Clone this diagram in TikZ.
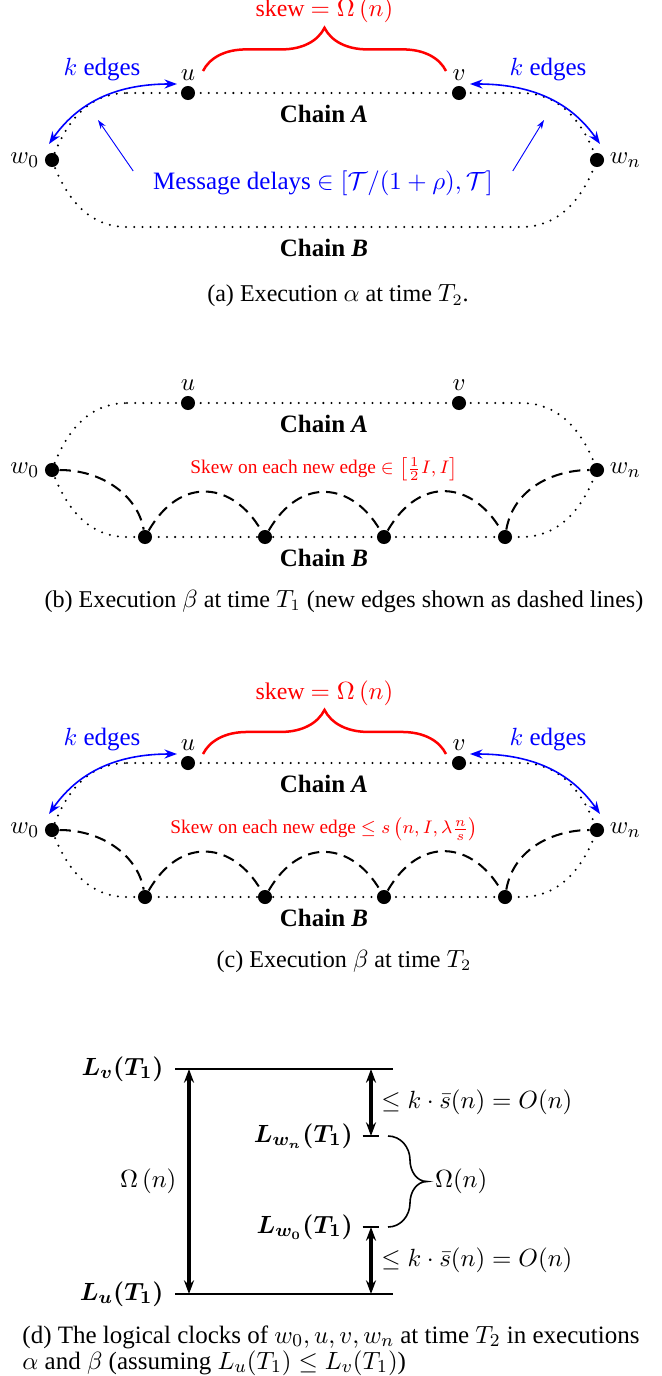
\documentclass[tikz,border=0pt]{standalone}
\usepackage{amsmath,amssymb}
\usepackage{fontspec}
\setmainfont{Liberation Serif}
\usetikzlibrary{arrows.meta,positioning,calc,decorations.pathreplacing}
\definecolor{skewred}{RGB}{255,0,0}
\definecolor{delayblue}{RGB}{0,0,255}

\tikzset{
  proc/.style={circle, fill=black, inner sep=0pt, minimum size=6.2pt},
  plabel/.style={font=\fontsize{11}{13}\selectfont, inner sep=1pt},
  chainline/.style={line width=1pt, dash pattern=on 0pt off 3.6pt, line cap=round},
  chainlabel/.style={font=\fontsize{11}{13}\selectfont\bfseries},
  newedge/.style={line width=0.9pt, dash pattern=on 5pt off 3pt},
  newskew/.style={skewred, font=\fontsize{8.5}{10}\selectfont},
  skewbrace/.style={skewred, line width=1.1pt, decorate, decoration={brace, amplitude=#1}},
  skewlabel/.style={skewred, font=\fontsize{10.5}{12}\selectfont, inner sep=1pt},
  kedge/.style={delayblue, line width=0.7pt, {Stealth[length=5.5pt,width=4pt]}-{Stealth[length=5.5pt,width=4pt]}},
  bluetext/.style={delayblue, font=\fontsize{11}{13}\selectfont},
  delay/.style={delayblue, line width=0.4pt, -{Stealth[length=4pt,width=2.6pt]}},
  subcap/.style={font=\fontsize{10.6}{12}\selectfont},
  clock/.style={line width=0.9pt},
  gap/.style={line width=1.4pt, {Stealth[length=6pt,width=4.4pt]}-{Stealth[length=6pt,width=4.4pt]}},
  clocklabel/.style={font=\fontsize{11}{13}\selectfont},
  gaplabel/.style={font=\fontsize{10.6}{12}\selectfont},
}

% the two chains between w0 and wn
\newcommand{\chainskeleton}{%
  \node[proc, label={[plabel, label distance=1pt]above:$u$}] (u) at (188,0) {};
  \node[proc, label={[plabel, label distance=1pt]above:$v$}] (v) at (459,0) {};
  \node[proc, label={[plabel, label distance=1.2pt]left:$w_0$}] (w0) at (52,-67) {};
  \node[proc, label={[plabel, label distance=1.2pt]right:$w_n$}] (wn) at (597,-67) {};
  \coordinate (tl) at (127,0);  \coordinate (tr) at (521,0);
  \coordinate (bl) at (127,-134); \coordinate (br) at (521,-134);
  \draw[chainline] (tl) -- (tr) to[out=0,in=110] (wn.center) to[out=-110,in=0] (br)
    -- (bl) to[out=180,in=-70] (w0.center) to[out=70,in=180] (tl);
  \node[chainlabel] (chainA) at (324,-21) {Chain \textit{A}};
  \node[chainlabel] (chainB) at (324,-155) {Chain \textit{B}};
}

\begin{document}
\begin{tikzpicture}[x=0.44pt, y=0.44pt]
\useasboundingbox (0,0) rectangle (662,-1376);

% (a) execution alpha
\begin{scope}[shift={(0,-93)}, name prefix=a-]
  \chainskeleton
  \draw[skewbrace=19pt] ($(u)+(15,22)$) -- node[skewlabel, above=19.5pt] (skew) {skew $=\Omega\left(n\right)$} ($(v)+(-13,22)$);
  \node[bluetext] (kl) at (102,23) {$k$ edges};
  \node[bluetext] (kr) at (548,23) {$k$ edges};
  \draw[kedge] ($(w0)+(-3,16)$) to[out=55,in=180] ($(u)+(-11,9)$);
  \draw[kedge] ($(v)+(11,9)$) to[out=0,in=125] ($(wn)+(3,16)$);
  \node[bluetext] (msg) at (323,-90) {Message delays $\in\left[\mathcal{T}/(1+\rho),\mathcal{T}\right]$};
  \coordinate (dl) at (98,-27); \coordinate (dr) at (544,-27);
  \draw[delay] ($(msg.west)+(-12,12)$) -- (dl);
  \draw[delay] ($(msg.east)+(12,12)$) -- (dr);
\end{scope}
\node[subcap] (capa) at (338,-296) {(a) Execution $\alpha$ at time $T_2$.};

% (b) execution beta at T1
\begin{scope}[shift={(0,-403)}, name prefix=b-]
  \chainskeleton
  \foreach \i/\x in {1/145,2/265,3/384,4/505}
    \node[proc] (b\i) at (\x,-134) {};
  \draw[newedge] (w0) to[out=0,in=100] (b1);
  \draw[newedge] (b1) to[out=60,in=120,looseness=1.4] (b2);
  \draw[newedge] (b2) to[out=60,in=120,looseness=1.4] (b3);
  \draw[newedge] (b3) to[out=60,in=120,looseness=1.4] (b4);
  \draw[newedge] (b4) to[out=80,in=180] (wn);
  \node[newskew] (skew) at (324,-66) {Skew on each new edge $\in\left[\frac{1}{2}I, I\right]$};
\end{scope}
\node[subcap] (capb) at (344,-601) {(b) Execution $\beta$ at time $T_1$ (new edges shown as dashed lines)};

% (c) execution beta at T2
\begin{scope}[shift={(0,-763)}, name prefix=c-]
  \chainskeleton
  \foreach \i/\x in {1/145,2/265,3/384,4/505}
    \node[proc] (b\i) at (\x,-134) {};
  \draw[newedge] (w0) to[out=0,in=100] (b1);
  \draw[newedge] (b1) to[out=60,in=120,looseness=1.4] (b2);
  \draw[newedge] (b2) to[out=60,in=120,looseness=1.4] (b3);
  \draw[newedge] (b3) to[out=60,in=120,looseness=1.4] (b4);
  \draw[newedge] (b4) to[out=80,in=180] (wn);
  \node[newskew] (skew) at (324,-66) {Skew on each new edge $\leq s\left(n, I, \lambda\frac{n}{s}\right)$};
  \draw[skewbrace=19.4pt] ($(u)+(15,9)$) -- node[skewlabel, above=19.5pt] (skewA) {skew $=\Omega\left(n\right)$} ($(v)+(-13,9)$);
  \node[bluetext] (kl) at (102,23) {$k$ edges};
  \node[bluetext] (kr) at (548,23) {$k$ edges};
  \draw[kedge] ($(w0)+(-3,16)$) to[out=55,in=180] ($(u)+(-11,9)$);
  \draw[kedge] ($(v)+(11,9)$) to[out=0,in=125] ($(wn)+(3,16)$);
\end{scope}
\node[subcap] (capc) at (344,-961) {(c) Execution $\beta$ at time $T_2$};

% (d) logical clocks
\coordinate (vs) at (175,-1069); \coordinate (ve) at (393,-1069);
\coordinate (us) at (175,-1294); \coordinate (ue) at (393,-1294);
\draw[clock] (vs) -- (ve);
\draw[clock] (us) -- (ue);
\node[clocklabel, anchor=east] (Lv) at ([xshift=-1.5pt]vs) {$\boldsymbol{L_v(T_1)}$};
\node[clocklabel, anchor=east] (Lu) at ([xshift=-1.5pt]us) {$\boldsymbol{L_u(T_1)}$};
\coordinate (va) at (189,-1069); \coordinate (ua) at (189,-1294);
\draw[gap] (va) -- node[gaplabel, left=1.5pt] (om) {$\Omega\left(n\right)$} (ua);
\coordinate (vb) at (371,-1069); \coordinate (ub) at (371,-1294);
\coordinate (wnt) at (371,-1136); \coordinate (w0t) at (371,-1227);
\draw[clock] ([xshift=-3.7pt]wnt) -- ([xshift=3.7pt]wnt);
\draw[clock] ([xshift=-3.7pt]w0t) -- ([xshift=3.7pt]w0t);
\node[clocklabel, anchor=east] (Lwn) at ([xshift=-4.5pt]wnt) {$\boldsymbol{L_{w_n}(T_1)}$};
\node[clocklabel, anchor=east] (Lw0) at ([xshift=-4.5pt]w0t) {$\boldsymbol{L_{w_0}(T_1)}$};
\draw[gap] (vb) -- node[gaplabel, right=0.5pt] (up) {$\leq k\cdot\bar{s}(n)=O(n)$} (wnt);
\draw[gap] (w0t) -- node[gaplabel, right=0.5pt] (lo) {$\leq k\cdot\bar{s}(n)=O(n)$} (ub);
\coordinate (bt) at (388,-1136); \coordinate (bb) at (388,-1227); \coordinate (btip) at (427,-1181.5);
\draw[line width=0.7pt] (bt) to[out=0,in=90] (410,-1160) to[out=-90,in=180] (btip)
  to[out=180,in=90] (410,-1203) to[out=-90,in=0] (bb);
\node[gaplabel, anchor=west] (om2) at (btip) {$\Omega(n)$};
\node[font=\fontsize{11}{11.5}\selectfont, anchor=north west, align=left, inner sep=0pt] (capd) at (22,-1325)
  {(d) The logical clocks of $w_0, u, v, w_n$ at time $T_2$ in executions\\
   $\alpha$ and $\beta$ (assuming $L_u(T_1)\leq L_v(T_1)$)};
\end{tikzpicture}
\end{document}
